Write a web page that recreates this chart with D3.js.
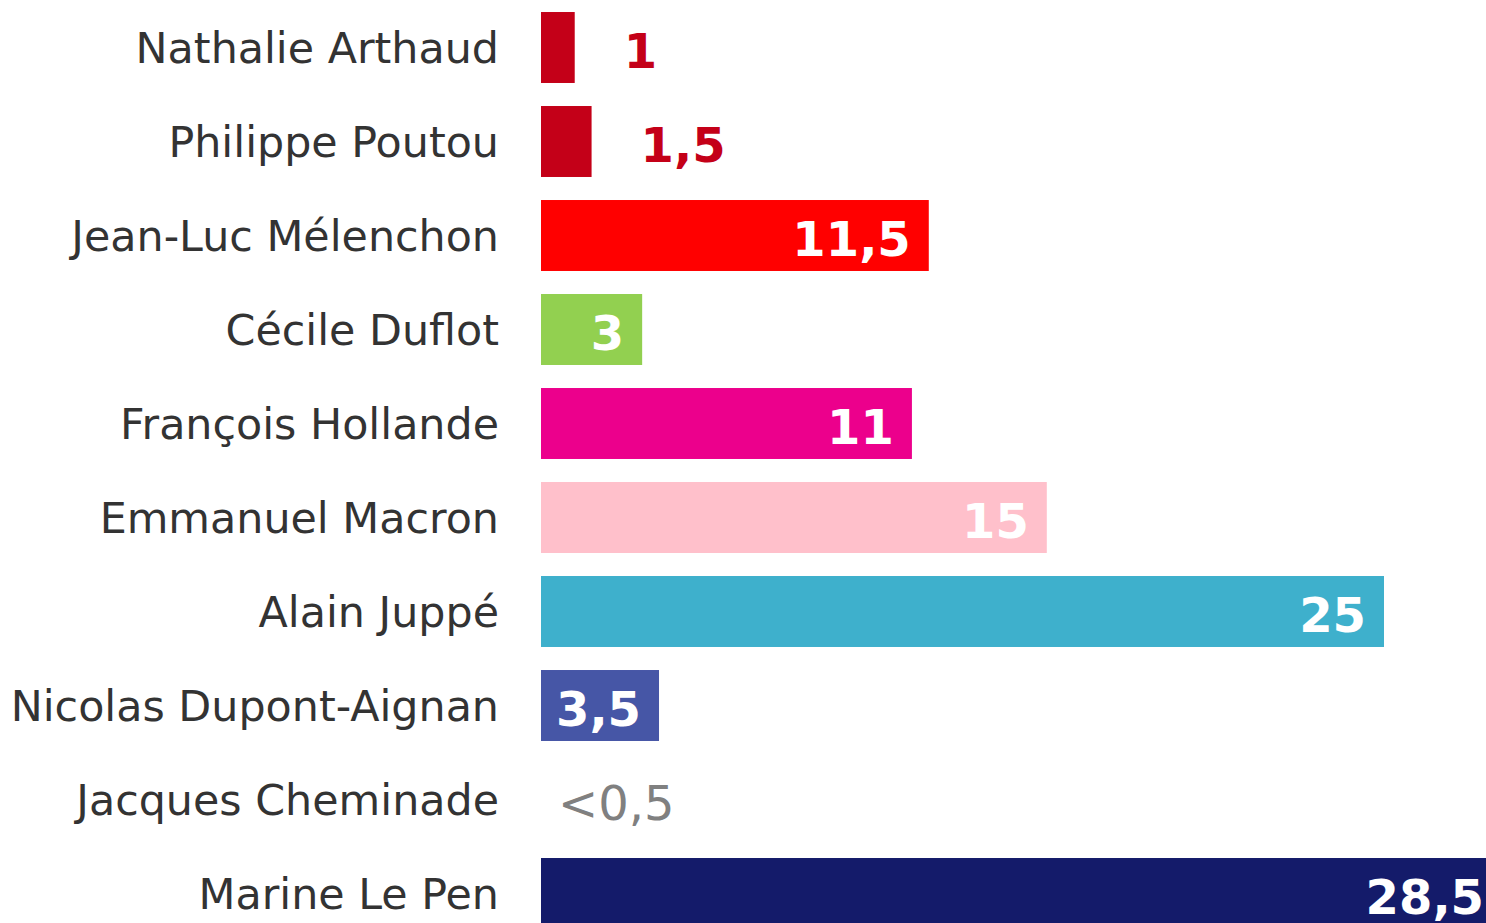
<!DOCTYPE html>
<html lang="fr">
<head>
  <meta charset="UTF-8">
  <title>Intentions de vote</title>
  <script src="https://d3js.org/d3.v7.min.js"></script>
  <style>
    body { margin: 0; background: #fff; }
    svg { display: block; overflow: hidden; font-family: "DejaVu Sans", Verdana, sans-serif; }
  </style>
</head>
<body>
  <svg width="1486" height="923"></svg>
  <script>
    // data
    const candidates = ["Nathalie Arthaud", "Philippe Poutou", "Jean-Luc Mélenchon", "Cécile Duflot",
      "François Hollande", "Emmanuel Macron", "Alain Juppé", "Nicolas Dupont-Aignan",
      "Jacques Cheminade", "Marine Le Pen"];
    const scores = [1, 1.5, 11.5, 3, 11, 15, 25, 3.5, 0, 28.5];
    const scoreLabels = ["1", "1,5", "11,5", "3", "11", "15", "25", "3,5", "<0,5", "28,5"];
    const barColors = ["#c40018", "#c40018", "#ff0000", "#92d050", "#ec008c", "#ffc0cb",
      "#3eb0cc", "#4656a6", "#ffffff", "#141b6a"];

    const data = candidates.map((name, i) => ({
      name, value: scores[i], label: scoreLabels[i], color: barColors[i]
    }));

    const svg = d3.select("svg");

    const x = d3.scaleLinear()
      .domain([0, 25])
      .range([541, 1384]);

    const y = d3.scaleBand()
      .domain(candidates)
      .range([0.5, 940.5])
      .paddingInner(0.245)
      .paddingOuter(0.1225);

    // bars
    svg.selectAll("rect.bar")
      .data(data)
      .join("rect")
      .attr("class", "bar")
      .attr("x", x(0))
      .attr("y", d => y(d.name))
      .attr("width", d => x(d.value) - x(0))
      .attr("height", y.bandwidth())
      .attr("fill", d => d.color);

    // candidate names
    svg.selectAll("text.name")
      .data(data)
      .join("text")
      .attr("class", "name")
      .attr("x", x(0) - 42)
      .attr("y", d => y(d.name) + y.bandwidth() / 2 + 15)
      .attr("text-anchor", "end")
      .style("font-size", "42.8px")
      .style("fill", "#333")
      .text(d => d.name);

    // value labels: inside when the bar is wide enough, outside otherwise
    svg.selectAll("text.value")
      .data(data)
      .join("text")
      .attr("class", "value")
      .attr("x", d => {
        if (d.value === 0) return x(0) + 17;
        return d.value >= 3 ? x(d.value) - 18 : x(d.value) + 49;
      })
      .attr("y", d => y(d.name) + y.bandwidth() / 2 + 20)
      .attr("text-anchor", d => d.value >= 3 ? "end" : "start")
      .style("font-size", "48px")
      .style("font-weight", d => d.value === 0 ? "normal" : "bold")
      .style("fill", d => d.value === 0 ? "#808080" : (d.value >= 3 ? "#fff" : d.color))
      .text(d => d.label);
  </script>
</body>
</html>
